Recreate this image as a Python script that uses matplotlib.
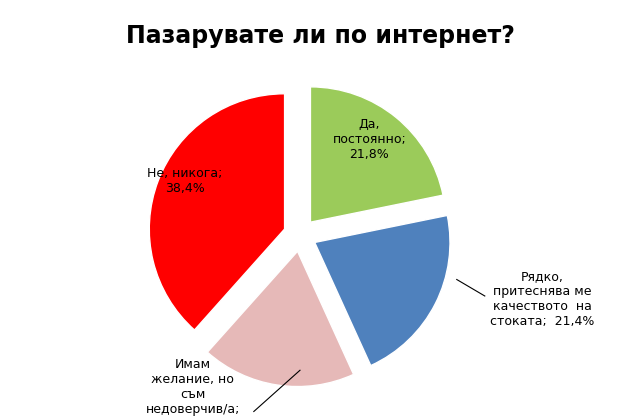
import matplotlib
matplotlib.use("Agg")
import matplotlib.pyplot as plt

labels = ["Да,\nпостоянно;\n21,8%", "Рядко,\nпритеснява ме\nкачеството  на\nстоката;  21,4%",
          "Имам\nжелание, но\nсъм\nнедоверчив/а;", "Не, никога;\n38,4%"]
values = [21.8, 21.4, 18.4, 38.4]
colors = ["#9BCB5A", "#4F81BD", "#E6B9B8", "#FF0000"]

fig = plt.figure(figsize=(6.4, 4.2), dpi=100)
ax = fig.add_axes([0, 0, 1, 1])
ax.pie(values, colors=colors, startangle=90, counterclock=False,
       explode=[0.1, 0.1, 0.1, 0.1], radius=0.82, center=(0, -0.03),
       wedgeprops=dict(edgecolor="white", linewidth=1))
ax.set_aspect("equal")
ax.set_xlim(-300/165, 340/165)
ax.set_ylim(-190/165, 230/165)
ax.axis("off")

fs = 9
ax.text(0.42, 0.55, labels[0], ha="center", va="center", fontsize=fs)
ax.text(-0.70, 0.30, labels[3], ha="center", va="center", fontsize=fs)
ax.text(1.47, -0.42, labels[1], ha="center", va="center", fontsize=fs)
ax.text(-0.65, -0.95, labels[2], ha="center", va="center", fontsize=fs)
ax.plot([0.95, 1.12], [-0.30, -0.40], color="black", lw=0.8)
ax.plot([0.0, -0.28], [-0.85, -1.10], color="black", lw=0.8)

fig.text(0.5, 0.915, "Пазарувате ли по интернет?", ha="center", va="center",
         fontsize=17, fontweight="bold")
fig.savefig("out.png", dpi=100)
